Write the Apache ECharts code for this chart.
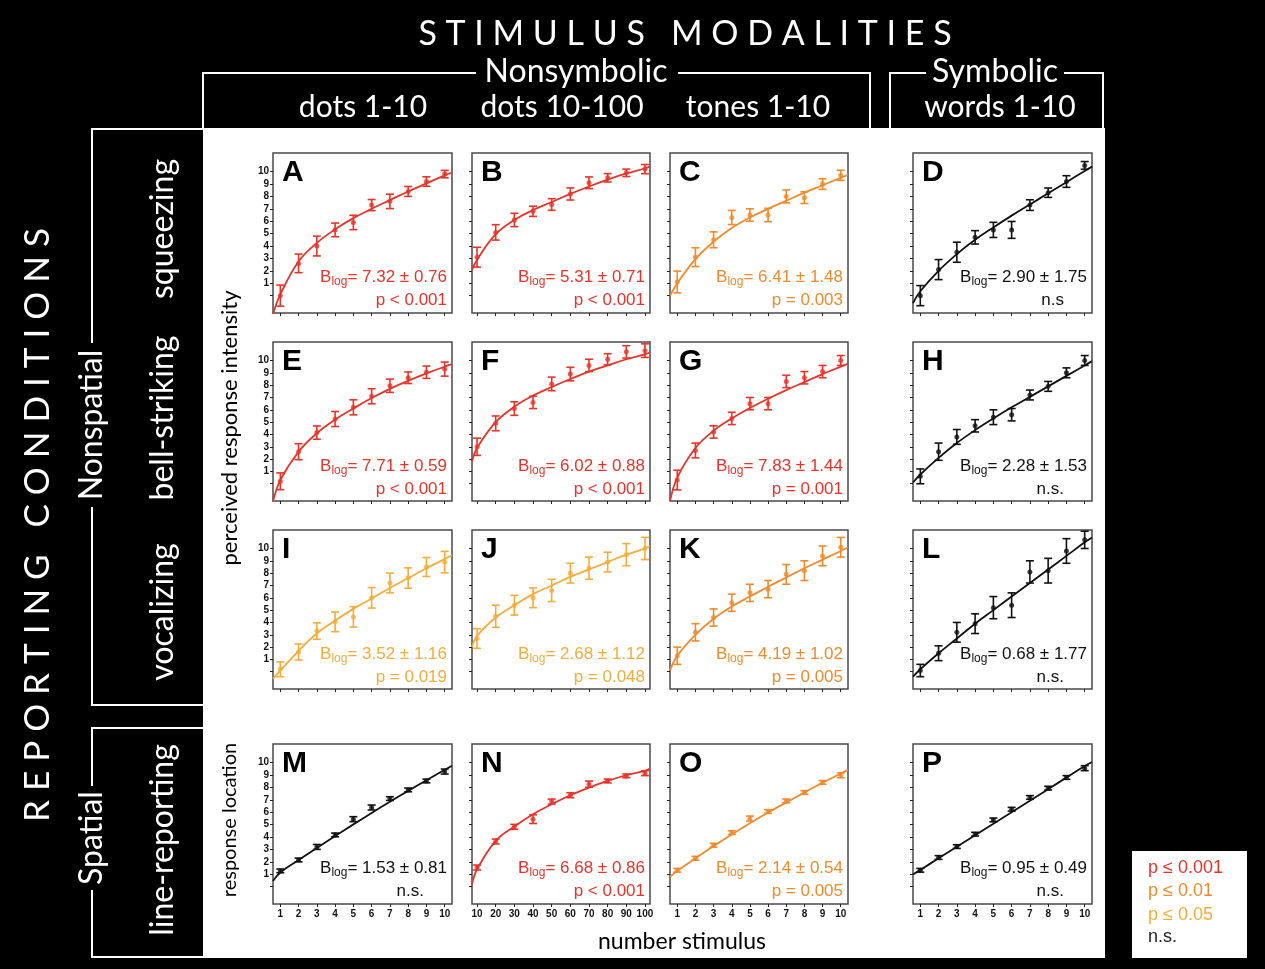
<!DOCTYPE html>
<html><head><meta charset="utf-8">
<script src="https://cdn.jsdelivr.net/npm/echarts@6/dist/echarts.min.js"></script>
<style>html,body{margin:0;padding:0;background:#000}#c{width:1265px;height:969px}</style>
</head><body><div id="c"></div>
<script>
// ---------- data ----------
const xSmall = [1,2,3,4,5,6,7,8,9,10];
const xLarge = [10,20,30,40,50,60,70,80,90,100];
const fitXSmall = [0.6,1,2,3,4,5,6,7,8,9,10,10.4];
const fitXLarge = [7.3,10,20,30,40,50,60,70,80,90,100,102.7];
const yTickValues = [0,1,2,3,4,5,6,7,8,9,10];
const yLabelValues = [1,2,3,4,5,6,7,8,9,10];

const A_mean = [0.0,2.6,4.0,5.3,5.9,7.3,7.6,8.4,9.2,9.8];
const A_err  = [0.85,0.75,0.8,0.55,0.58,0.45,0.58,0.4,0.38,0.3];
const A_fit  = [-1.5,0.1,2.75,4.25,5.35,6.25,7.0,7.7,8.4,9.05,9.7,9.93];

const B_mean = [3.1,5.1,6.1,6.8,7.35,8.2,9.1,9.5,9.9,10.2];
const B_err  = [0.8,0.62,0.54,0.41,0.47,0.49,0.47,0.34,0.3,0.37];
const B_fit  = [2.1,2.9,4.95,6.1,6.9,7.55,8.2,8.8,9.35,9.85,10.25,10.4];

const C_mean = [1.1,3.1,4.5,6.3,6.5,6.5,8.0,7.9,9.0,9.7];
const C_err  = [0.88,0.76,0.64,0.57,0.5,0.54,0.52,0.47,0.43,0.41];
const C_fit  = [0.0,1.0,2.95,4.35,5.45,6.3,7.0,7.65,8.3,8.9,9.5,9.75];

const D_mean = [0.0,2.1,3.5,4.7,5.3,5.3,7.3,8.3,9.2,10.5];
const D_err  = [0.81,0.81,0.81,0.54,0.61,0.68,0.43,0.38,0.47,0.31];
const D_fit  = [-0.6,0.35,2.0,3.35,4.5,5.5,6.45,7.35,8.25,9.15,10.05,10.4];

const E_mean = [0.2,2.6,4.15,5.25,6.2,7.1,7.95,8.6,9.05,9.3];
const E_err  = [0.68,0.65,0.54,0.61,0.61,0.61,0.54,0.47,0.5,0.57];
const E_fit  = [-1.45,0.3,2.6,4.1,5.2,6.1,6.95,7.7,8.35,8.95,9.5,9.7];

const F_mean = [3.0,4.9,6.1,6.6,8.1,8.9,9.6,10.1,10.7,10.8];
const F_err  = [0.7,0.6,0.55,0.5,0.55,0.55,0.5,0.45,0.5,0.55];
const F_fit  = [1.8,2.9,5.0,6.25,7.15,7.85,8.5,9.1,9.6,10.1,10.5,10.65];

const G_mean = [0.3,2.7,4.2,5.3,6.5,6.5,8.3,8.6,9.1,10.0];
const G_err  = [0.8,0.6,0.5,0.5,0.5,0.5,0.5,0.5,0.5,0.4];
const G_fit  = [-1.4,0.5,2.9,4.3,5.3,6.15,6.9,7.6,8.25,8.9,9.5,9.75];

const H_mean = [0.6,2.6,3.8,4.7,5.4,5.6,7.2,7.9,9.0,10.0];
const H_err  = [0.6,0.7,0.6,0.5,0.6,0.5,0.4,0.4,0.4,0.4];
const H_fit  = [0.1,0.75,2.1,3.3,4.35,5.3,6.2,7.05,7.9,8.75,9.6,9.95];

const I_mean = [0.2,1.6,3.3,4.05,4.45,6.0,7.2,7.6,8.5,8.9];
const I_err  = [0.6,0.65,0.67,0.8,0.83,0.83,0.8,0.83,0.77,0.87];
const I_fit  = [-0.55,0.1,1.7,3.1,4.15,5.1,5.95,6.8,7.6,8.4,9.15,9.45];

const J_mean = [2.7,4.5,5.4,6.0,6.6,8.0,8.4,8.9,9.5,10.0];
const J_err  = [0.8,0.9,0.8,0.8,0.9,0.8,0.9,0.8,0.9,0.9];
const J_fit  = [2.0,2.9,4.4,5.4,6.3,7.0,7.7,8.3,8.9,9.5,10.0,10.2];

const K_mean = [1.3,3.2,4.4,5.6,6.4,6.7,7.9,8.2,9.4,10.1];
const K_err  = [0.7,0.7,0.7,0.7,0.7,0.7,0.8,0.8,0.8,0.8];
const K_fit  = [0.1,1.3,3.0,4.3,5.3,6.1,6.9,7.65,8.4,9.1,9.8,10.1];

const L_mean = [0.1,1.5,3.2,3.9,5.2,5.4,8.1,8.2,9.8,10.7];
const L_err  = [0.5,0.6,0.8,0.8,0.9,1.0,0.9,1.0,1.0,0.7];
const L_fit  = [-0.4,0.2,1.5,2.7,3.9,5.0,6.1,7.2,8.3,9.4,10.5,10.9];

const M_mean = [1.27,2.15,3.2,4.17,5.44,6.38,7.1,7.8,8.52,9.28];
const M_err  = [0.15,0.15,0.2,0.15,0.2,0.2,0.15,0.15,0.15,0.2];
const M_fit  = [0.46,1.14,2.14,3.12,4.08,5.02,5.94,6.84,7.72,8.58,9.42,9.75];

const N_mean = [1.54,3.64,4.82,5.44,6.86,7.37,8.26,8.52,8.93,9.15];
const N_err  = [0.2,0.2,0.2,0.35,0.2,0.2,0.25,0.15,0.15,0.2];
const N_fit  = [0.19,1.4,3.69,4.85,5.84,6.65,7.37,7.99,8.52,8.98,9.33,9.52];

const O_mean = [1.32,2.29,3.34,4.36,5.49,6.06,6.91,7.59,8.4,8.98];
const O_err  = [0.15,0.15,0.15,0.15,0.2,0.15,0.15,0.15,0.15,0.2];
const O_fit  = [0.8,1.27,2.29,3.27,4.21,5.11,5.97,6.79,7.59,8.37,9.12,9.41];

const P_mean = [1.32,2.35,3.23,4.23,5.38,6.24,7.19,7.94,8.8,9.55];
const P_err  = [0.15,0.15,0.15,0.15,0.15,0.15,0.15,0.15,0.15,0.2];
const P_fit  = [0.98,1.35,2.28,3.21,4.14,5.07,6.0,6.93,7.86,8.79,9.72,10.05];

const panelLetters = ['A','B','C','D','E','F','G','H','I','J','K','L','M','N','O','P'];
const blogTexts = ['7.32 ± 0.76','5.31 ± 0.71','6.41 ± 1.48','2.90 ± 1.75',
                   '7.71 ± 0.59','6.02 ± 0.88','7.83 ± 1.44','2.28 ± 1.53',
                   '3.52 ± 1.16','2.68 ± 1.12','4.19 ± 1.02','0.68 ± 1.77',
                   '1.53 ± 0.81','6.68 ± 0.86','2.14 ± 0.54','0.95 ± 0.49'];
const pTexts = ['p < 0.001','p < 0.001','p = 0.003','n.s',
                'p < 0.001','p < 0.001','p = 0.001','n.s.',
                'p = 0.019','p = 0.048','p = 0.005','n.s.',
                'n.s.','p < 0.001','p = 0.005','n.s.'];
const columnHeaders = ['dots 1-10','dots 10-100','tones 1-10','words 1-10'];
const rowHeaders = ['squeezing','bell-striking','vocalizing','line-reporting'];
const legendLabels = ['p ≤ 0.001','p ≤ 0.01','p ≤ 0.05','n.s.'];

// ---------- styles / layout ----------
const RED = '#e8332a', ORANGE = '#f08a2c', LORANGE = '#f5ac3a', BLACK = '#111111';
const panelColors = [RED,RED,ORANGE,BLACK, RED,RED,RED,BLACK, LORANGE,LORANGE,ORANGE,BLACK, BLACK,RED,ORANGE,BLACK];
const panelMeans = [A_mean,B_mean,C_mean,D_mean,E_mean,F_mean,G_mean,H_mean,I_mean,J_mean,K_mean,L_mean,M_mean,N_mean,O_mean,P_mean];
const panelErrs = [A_err,B_err,C_err,D_err,E_err,F_err,G_err,H_err,I_err,J_err,K_err,L_err,M_err,N_err,O_err,P_err];
const panelFits = [A_fit,B_fit,C_fit,D_fit,E_fit,F_fit,G_fit,H_fit,I_fit,J_fit,K_fit,L_fit,M_fit,N_fit,O_fit,P_fit];

const colLeft = [273,472,670,913], colW = [179,178,178,179];
const rowTop = [153,342,530,744], rowH = [160,159,159,160];
const FRAME = '#4a4a4a';
const SANS = '"Liberation Sans", Arial, sans-serif';
const HUM = 'Lato, "Open Sans", sans-serif';

function errItem(params, api) {
  const x = api.value(0), m = api.value(1), e = api.value(2);
  const t = api.coord([x, m + e]), b = api.coord([x, m - e]);
  const w = 4;
  const st = { stroke: api.visual('color'), lineWidth: 1.6, fill: null };
  return { type: 'group', children: [
    { type: 'line', shape: { x1: t[0], y1: t[1], x2: b[0], y2: b[1] }, style: st },
    { type: 'line', shape: { x1: t[0]-w, y1: t[1], x2: t[0]+w, y2: t[1] }, style: st },
    { type: 'line', shape: { x1: b[0]-w, y1: b[1], x2: b[0]+w, y2: b[1] }, style: st }
  ]};
}

const grids = [], xAxes = [], yAxes = [], series = [], graphics = [];

for (let r = 0; r < 4; r++) {
  for (let c = 0; c < 4; c++) {
    const i = r * 4 + c;
    const large = (c === 1);
    const xs = large ? xLarge : xSmall;
    const fx = large ? fitXLarge : fitXSmall;
    const color = panelColors[i];
    grids.push({ left: colLeft[c], top: rowTop[r], width: colW[c], height: rowH[r],
      show: true, backgroundColor: '#fff', borderColor: FRAME, borderWidth: 1.5 });
    xAxes.push({ type: 'value', gridIndex: i, position: 'bottom',
      min: large ? 7.3 : 0.6, max: large ? 102.7 : 10.4,
      splitLine: { show: false }, axisLine: { show: false, onZero: false },
      axisTick: { show: true, length: 3, customValues: xs, lineStyle: { color: '#222', width: 1 } },
      axisLabel: { show: r === 3, customValues: xs, fontSize: 10, fontWeight: 'bold', color: '#111', margin: 5, fontFamily: SANS }
    });
    yAxes.push({ type: 'value', gridIndex: i, position: 'left', min: -1.4, max: 11.5,
      splitLine: { show: false }, axisLine: { show: false, onZero: false },
      axisTick: { show: true, length: 3, customValues: yTickValues, lineStyle: { color: '#222', width: 1 } },
      axisLabel: { show: c === 0, customValues: yLabelValues, fontSize: 10, fontWeight: 'bold', color: '#111', margin: 4, fontFamily: SANS }
    });
    series.push({ type: 'line', xAxisIndex: i, yAxisIndex: i, data: fx.map((x, k) => [x, panelFits[i][k]]),
      smooth: 0.4, showSymbol: false, symbol: 'none', clip: true,
      lineStyle: { color: color, width: 1.8 }, itemStyle: { color: color }, silent: true, z: 2 });
    series.push({ type: 'custom', xAxisIndex: i, yAxisIndex: i, renderItem: errItem,
      data: xs.map((x, k) => [x, panelMeans[i][k], panelErrs[i][k]]),
      itemStyle: { color: color }, silent: true, z: 3 });
    series.push({ type: 'scatter', xAxisIndex: i, yAxisIndex: i, data: xs.map((x, k) => [x, panelMeans[i][k]]),
      symbol: 'circle', symbolSize: 5, itemStyle: { color: color }, silent: true, z: 4 });

    const right = colLeft[c] + colW[c];
    graphics.push({ type: 'text', x: colLeft[c] + 9, y: rowTop[r] + 20, z: 100,
      style: { text: panelLetters[i], font: 'bold 30px ' + SANS, fill: '#000', verticalAlign: 'middle', align: 'left' } });
    graphics.push({ type: 'text', x: right - 5, y: rowTop[r] + 124, z: 100,
      style: { text: '{b|B}{s|log}{b|= ' + blogTexts[i] + '}', align: 'right', verticalAlign: 'middle',
        rich: { b: { fontSize: 17, fontFamily: SANS, fill: color, lineHeight: 22 },
                s: { fontSize: 12, fontFamily: SANS, fill: color, lineHeight: 12, verticalAlign: 'bottom' } } } });
    const ns = pTexts[i].startsWith('n.s');
    graphics.push({ type: 'text', x: ns ? right - 28 : right - 5, y: rowTop[r] + 147, z: 100,
      style: { text: pTexts[i], align: 'right', verticalAlign: 'middle', font: '17px ' + SANS, fill: color } });
  }
}

// ---------- frame decorations ----------
const W = '#ffffff';
const lineStyle = { stroke: W, lineWidth: 2, fill: null };
graphics.push({ type: 'rect', z: -100, shape: { x: 203, y: 128, width: 902, height: 830 }, style: { fill: '#fff' } });
graphics.push({ type: 'text', x: 685, y: 34, z: 100, style: { text: 'S T I M U L U S   M O D A L I T I E S', font: '34px ' + HUM, fill: W, align: 'center', verticalAlign: 'middle' } });
graphics.push({ type: 'text', x: 576, y: 72, z: 100, style: { text: 'Nonsymbolic', font: '32px ' + HUM, fill: W, align: 'center', verticalAlign: 'middle' } });
graphics.push({ type: 'text', x: 995, y: 72, z: 100, style: { text: 'Symbolic', font: '32px ' + HUM, fill: W, align: 'center', verticalAlign: 'middle' } });
const headerX = [363, 562, 758, 1000];
columnHeaders.forEach((t, k) => graphics.push({ type: 'text', x: headerX[k], y: 107, z: 100,
  style: { text: t, font: '30px ' + HUM, fill: W, align: 'center', verticalAlign: 'middle' } }));
graphics.push({ type: 'polyline', z: 100, shape: { points: [[203,128],[203,73],[476,73]] }, style: lineStyle });
graphics.push({ type: 'polyline', z: 100, shape: { points: [[678,73],[870,73],[870,128]] }, style: lineStyle });
graphics.push({ type: 'polyline', z: 100, shape: { points: [[890,128],[890,73],[926,73]] }, style: lineStyle });
graphics.push({ type: 'polyline', z: 100, shape: { points: [[1064,73],[1103,73],[1103,128]] }, style: lineStyle });
graphics.push({ type: 'text', x: 38, y: 525, rotation: Math.PI / 2, z: 100, style: { text: 'R E P O R T I N G   C O N D I T I O N S', font: '35px ' + HUM, fill: W, align: 'center', verticalAlign: 'middle' } });
graphics.push({ type: 'text', x: 92, y: 425, rotation: Math.PI / 2, z: 100, style: { text: 'Nonspatial', font: '32px ' + HUM, fill: W, align: 'center', verticalAlign: 'middle' } });
graphics.push({ type: 'text', x: 92, y: 838, rotation: Math.PI / 2, z: 100, style: { text: 'Spatial', font: '32px ' + HUM, fill: W, align: 'center', verticalAlign: 'middle' } });
graphics.push({ type: 'polyline', z: 100, shape: { points: [[203,129],[92,129],[92,343]] }, style: lineStyle });
graphics.push({ type: 'polyline', z: 100, shape: { points: [[92,507],[92,705],[203,705]] }, style: lineStyle });
graphics.push({ type: 'polyline', z: 100, shape: { points: [[203,728],[92,728],[92,786]] }, style: lineStyle });
graphics.push({ type: 'polyline', z: 100, shape: { points: [[92,890],[92,957],[203,957]] }, style: lineStyle });
const rowLabelY = [229, 418, 612, 840];
rowHeaders.forEach((t, k) => graphics.push({ type: 'text', x: 163, y: rowLabelY[k], rotation: Math.PI / 2, z: 100,
  style: { text: t, font: '32px ' + HUM, fill: W, align: 'center', verticalAlign: 'middle' } }));
graphics.push({ type: 'text', x: 230, y: 428, rotation: Math.PI / 2, z: 100, style: { text: 'perceived response intensity', font: '22px ' + HUM, fill: '#000', align: 'center', verticalAlign: 'middle' } });
graphics.push({ type: 'text', x: 230, y: 820, rotation: Math.PI / 2, z: 100, style: { text: 'response location', font: '20px ' + HUM, fill: '#000', align: 'center', verticalAlign: 'middle' } });
graphics.push({ type: 'text', x: 682, y: 942, z: 100, style: { text: 'number stimulus', font: '23px ' + HUM, fill: '#000', align: 'center', verticalAlign: 'middle' } });
graphics.push({ type: 'rect', z: 90, shape: { x: 1132, y: 851, width: 115, height: 107 }, style: { fill: '#fff' } });
const legendColors = [RED, ORANGE, LORANGE, '#222'];
const legendY = [868, 891, 915, 937];
legendLabels.forEach((t, k) => graphics.push({ type: 'text', x: 1148, y: legendY[k], z: 100,
  style: { text: t, font: '18px ' + SANS, fill: legendColors[k], align: 'left', verticalAlign: 'middle' } }));

const chart = echarts.init(document.getElementById('c'), null, { renderer: 'canvas' });
chart.setOption({
  backgroundColor: '#000',
  animation: false,
  grid: grids, xAxis: xAxes, yAxis: yAxes, series: series,
  graphic: { elements: graphics }
});
</script></body></html>
